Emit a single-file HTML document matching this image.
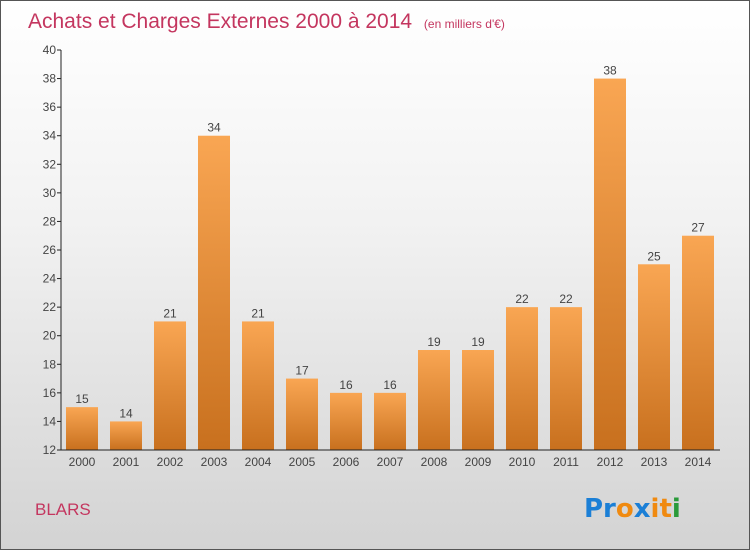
<!DOCTYPE html>
<html><head><meta charset="utf-8"><style>
html,body{margin:0;padding:0}
body{width:750px;height:550px;overflow:hidden;font-family:"Liberation Sans",sans-serif}
#wrap{position:absolute;left:0;top:0;width:748px;height:548px;border:1px solid #555;background:linear-gradient(#ffffff 0%,#f2f2f2 40%,#d3d3d3 100%)}
</style></head><body>
<div id="wrap">
<svg id="chart" width="748" height="548" xmlns="http://www.w3.org/2000/svg">
<defs>
<linearGradient id="bg" x1="0" y1="0" x2="0" y2="1"><stop offset="0" stop-color="#f9a653"/><stop offset="1" stop-color="#c8701e"/></linearGradient>
</defs>
<text x="27" y="27" font-size="21" fill="#c4365f">Achats et Charges Externes 2000 à 2014 <tspan font-size="12" dx="6">(en milliers d'€)</tspan></text>
<text x="34" y="514" font-size="17" fill="#c4365f">BLARS</text>
<g font-size="26" font-weight="bold" font-family="'DejaVu Sans',sans-serif">
<text x="583" y="516"><tspan fill="#1b7fd6">Pr</tspan><tspan fill="#f08a10">o</tspan><tspan fill="#1b7fd6">x</tspan><tspan fill="#f08a10">i</tspan><tspan fill="#f08a10">t</tspan><tspan fill="#2a9a3a">i</tspan></text>
</g>
<g id="plot"></g>
</svg>
</div>
<script>
const categories=["2000","2001","2002","2003","2004","2005","2006","2007","2008","2009","2010","2011","2012","2013","2014"];
const values=[15,14,21,34,21,17,16,16,19,19,22,22,38,25,27];
const yTicks=[12,14,16,18,20,22,24,26,28,30,32,34,36,38,40];
const yMin=12,yMax=40,plotTop=49,plotBottom=449,x0=60,x1=719,step=44,firstC=81,bw=32;
const NS="http://www.w3.org/2000/svg";
const g=document.getElementById('plot');
function yS(v){return plotBottom-(v-yMin)/(yMax-yMin)*(plotBottom-plotTop);}
function xc(i){return firstC+i*step;}
function mk(t,a){const e=document.createElementNS(NS,t);for(const k in a)e.setAttribute(k,a[k]);g.appendChild(e);return e;}
categories.forEach((c,i)=>{
 const r=mk('rect',{x:xc(i)-bw/2,y:yS(values[i]),width:bw,height:plotBottom-yS(values[i]),fill:'url(#bg)'});
 
 
 const t=mk('text',{x:xc(i),y:yS(values[i])-4,'font-size':12,fill:'#444','text-anchor':'middle'});
 t.textContent=values[i];
 
 
 const l=mk('text',{x:xc(i),y:plotBottom+16,'font-size':12,fill:'#444','text-anchor':'middle'});
 l.textContent=c;
 
 
});
yTicks.forEach(v=>{
 const tk=mk('line',{x1:x0-4,x2:x0,y1:yS(v),y2:yS(v),stroke:'#222'});
 
 
 const t=mk('text',{x:x0-5,y:yS(v)+4,'font-size':12,fill:'#444','text-anchor':'end'});
 t.textContent=v;
 
 
});
const ya=mk('line',{x1:x0,x2:x0,y1:plotTop,y2:plotBottom,stroke:'#222'});


const xa=mk('line',{x1:x0,x2:x1,y1:plotBottom,y2:plotBottom,stroke:'#222'});


</script>
</body></html>
